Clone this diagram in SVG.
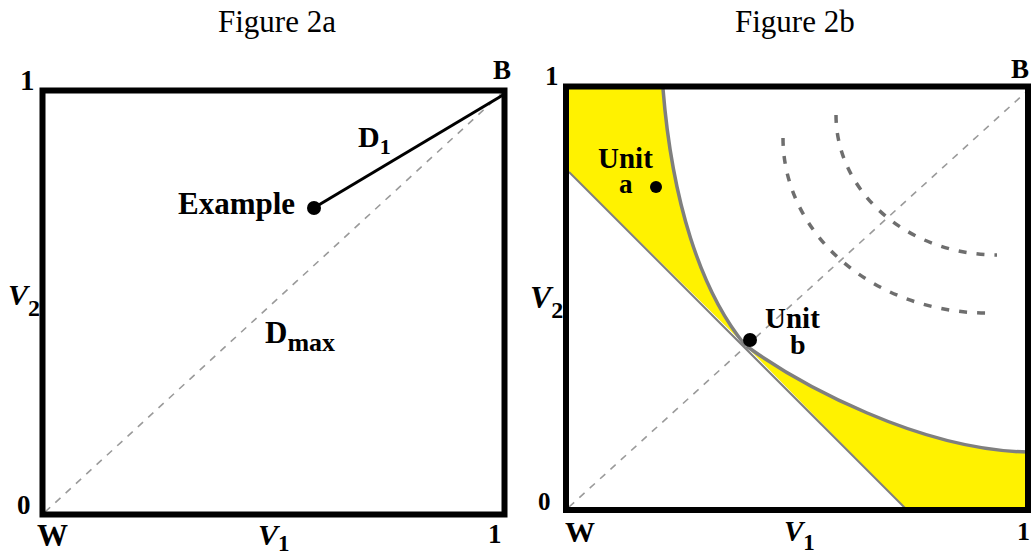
<svg xmlns="http://www.w3.org/2000/svg" width="1031" height="556" viewBox="0 0 1031 556">
<style>
text{font-family:"Liberation Serif","Times New Roman",serif;fill:#000}
.t{font-size:31px}
.b{font-weight:bold}
.i{font-style:italic;font-weight:bold}
.box{fill:none;stroke:#000;stroke-width:6}
.diag{fill:none;stroke:#9a9a9a;stroke-width:1.6;stroke-dasharray:7 7}
.arc{fill:none;stroke:#6e6e6e;stroke-width:3.5;stroke-dasharray:8 10}
.yel{fill:#fff200;stroke:none}
.edge{fill:none;stroke:#7f7f7f}
</style>
<rect width="1031" height="556" fill="#fff"/>
<g id="title-a"><text class="t" x="218" y="32">Figure 2a</text></g>
<g id="title-b"><text class="t" x="735" y="32">Figure 2b</text></g>

<g id="panel-a">
  <g id="connectors-a">
    <line class="diag" x1="45" y1="512" x2="502" y2="93"/>
    <line x1="317" y1="206" x2="503" y2="95" stroke="#000" stroke-width="3"/>
  </g>
  <rect id="box-a" class="box" x="42.5" y="90.5" width="462" height="424"/>
  <g id="example">
    <circle cx="314" cy="208" r="7" fill="#000"/>
    <text class="b" x="178" y="214" font-size="31">Example</text>
  </g>
  <g id="label-d1"><text class="b" x="358" y="147" font-size="30">D<tspan font-size="22" dy="7">1</tspan></text></g>
  <g id="label-dmax"><text class="b" x="265" y="343" font-size="31">D<tspan font-size="26" dy="8">max</tspan></text></g>
  <g id="axis-a">
    <text class="b" x="20" y="90" font-size="29">1</text>
    <text class="b" x="493" y="79" font-size="27">B</text>
    <text class="b" x="17" y="514" font-size="27">0</text>
    <text class="b" x="37" y="546" font-size="31">W</text>
    <text class="b" x="488" y="543" font-size="27">1</text>
    <text class="i" x="258" y="545" font-size="30">V<tspan font-style="normal" font-size="23" dy="6">1</tspan></text>
    <text class="i" x="8" y="305" font-size="30">V<tspan font-style="normal" font-size="24" dy="11">2</tspan></text>
  </g>
</g>

<g id="panel-b">
  <g id="regions-b">
    <path class="yel" d="M569,89 L663,89 C672,200 700,290 745,345 L569,172 Z"/>
    <path class="yel" d="M745,345 C800,385 920,450 1028,452 L1028,510 L907,510 Z"/>
    <path class="edge" stroke-width="2" d="M569,172 L907,510"/>
    <path class="edge" stroke-width="3.5" d="M663,89 C672,200 700,290 745,345 C800,385 920,450 1028,452"/>
  </g>
  <g id="connectors-b">
    <line class="diag" x1="569" y1="507" x2="1026" y2="92"/>
    <path class="arc" d="M783,138 A204,175 0 0 0 987,313"/>
    <path class="arc" d="M836,115 A161,140 0 0 0 997,255"/>
  </g>
  <rect id="box-b" class="box" x="566" y="86.5" width="462" height="423.5"/>
  <g id="unit-a">
    <text class="b" x="598" y="168" font-size="29">Unit</text>
    <text class="b" x="619" y="193" font-size="27">a</text>
    <circle cx="656" cy="187" r="6" fill="#000"/>
  </g>
  <g id="unit-b">
    <circle cx="750" cy="340" r="7" fill="#000"/>
    <text class="b" x="765" y="328" font-size="29">Unit</text>
    <text class="b" x="790" y="354" font-size="28">b</text>
  </g>
  <g id="axis-b">
    <text class="b" x="545" y="85" font-size="27">1</text>
    <text class="b" x="1011" y="78" font-size="27">B</text>
    <text class="b" x="538" y="510" font-size="25">0</text>
    <text class="b" x="565" y="542" font-size="30">W</text>
    <text class="b" x="1017" y="540" font-size="26">1</text>
    <text class="i" x="784" y="541" font-size="29">V<tspan font-style="normal" font-size="23" dy="9">1</tspan></text>
    <text class="i" x="530" y="308" font-size="32">V<tspan font-style="normal" font-size="24" dy="10">2</tspan></text>
  </g>
</g>
</svg>
